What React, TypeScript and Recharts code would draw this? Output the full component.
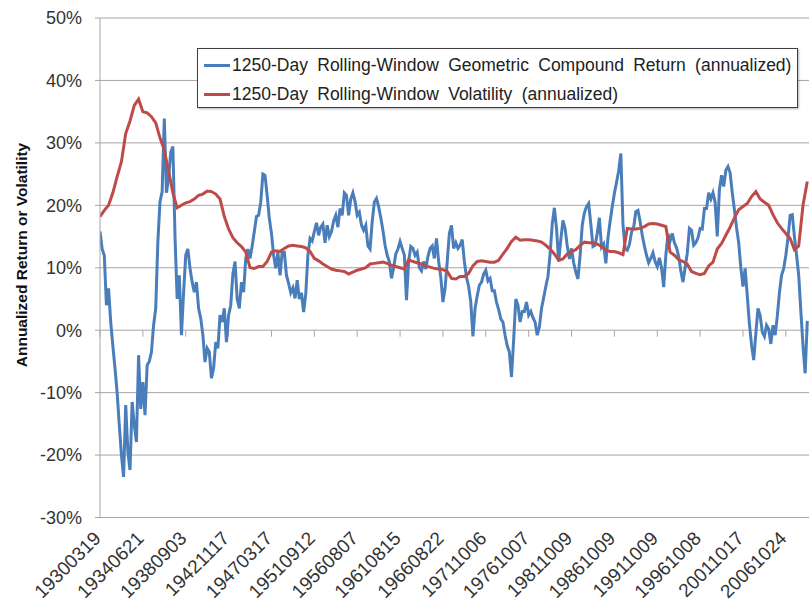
import { LineChart, Line, XAxis, YAxis, CartesianGrid, Legend, ReferenceLine } from 'recharts';

const dateLabels = [
  '19300319', '19340621', '19380903', '19421117', '19470317', '19510912',
  '19560807', '19610815', '19660822', '19711006', '19761007', '19811009',
  '19861009', '19911009', '19961008', '20011017', '20061024',
];

// annualized return, percent, one value every 1/20 of a label interval
const returnPct = [
  15.8, 13, 12, 4, 6.7, 1.3, -2.5, -6.1, -10, -15.2,
  -20, -23.5, -12, -19.5, -22.4, -11.5, -15.2, -17.9, -4, -12.6,
  -8.3, -13.6, -5.6, -5, -3.5, 0.8, 3.5, 14.2, 20.6, 22.2,
  33.9, 22, 24.3, 28.5, 29.4, 15, 5, 8.8, -0.8, 6,
  12, 13, 9.9, 7.7, 6.1, 7.7, 3.5, 1.9, -0.8, -5.1,
  -2.9, -3.5, -7.7, -6.1, -1.9, -2.9, 2.4, 1.3, 3.5, -1.9,
  2.4, 4, 9, 11, 5, 3.5, 7.7, 6.1, 11.5, 13,
  11.5, 13.5, 15.8, 18.2, 18.4, 20.5, 25, 24.8, 21.5, 17.9,
  15.5, 12, 9.9, 12.5, 8.8, 12.5, 12.5, 8.8, 7.5, 6,
  6.8, 5.1, 8, 5, 6, 2.9, 5.8, 12, 14.7, 14.3,
  15.8, 17.2, 15.2, 16.5, 17, 14, 16.8, 15, 15.8, 17.5,
  18.4, 16.5, 19.5, 18.4, 22, 21.6, 18.4, 21, 22, 20.6,
  18.4, 18.9, 16.8, 16, 16.8, 13.5, 13, 17.4, 20.5, 21.1,
  19.8, 18, 16, 13.6, 12, 11, 8.3, 10, 12.2, 13,
  14.2, 13.1, 12, 4.8, 11, 13.4, 13.1, 12, 12.5, 10,
  9.5, 11, 9.8, 11.8, 13.1, 13.5, 11.5, 14.7, 11, 8.5,
  4.5, 6.7, 11, 15.5, 16.8, 13.1, 14, 13.1, 13.6, 14.5,
  11, 8.5, 7, 4.5, -1, 3.5, 5.5, 7.2, 7.7, 9,
  9.6, 7.9, 8.3, 6.3, 6.3, 4.5, 3.3, 1.8, 1.3, -0.8,
  -2.5, -3.5, -7.5, -1.5, 5, 4, 1.3, 3, 3, 4.5,
  2.4, 3, 2, 1.3, -0.8, 0.5, 3.5, 5.2, 7, 8.6,
  12.2, 17, 19.6, 16.3, 11, 14.5, 17.6, 16.3, 13.5, 11.4,
  13.1, 10.8, 9.3, 8.2, 12, 16.8, 18.8, 19.8, 20.3, 17,
  13.4, 13.6, 15.5, 18, 13.3, 13.8, 10.7, 14.8, 17.4, 19.8,
  21.9, 23.7, 25.5, 28.3, 17, 13, 12.8, 13.7, 15.7, 16.5,
  19, 19.2, 17.4, 15.2, 13.5, 12, 10.8, 11.5, 12.4, 11,
  10.2, 11.6, 10, 6.9, 12, 15.4, 14.3, 15.5, 14, 13.2,
  11.8, 9.5, 7.7, 10, 12.3, 16.3, 16, 13.6, 14, 14.8,
  16.3, 16.2, 19.5, 19.5, 22, 21, 22, 20.5, 15, 22.5,
  24.8, 23, 25.6, 26.2, 25.2, 22, 19.3, 16.4, 14, 10,
  7, 9.9, 5.5, 1, -2.4, -4.8, -0.5, 3.5, 2.4, -0.3,
  -1, 0.8, 0.2, -2.2, 0.8, -0.8, 2.2, 6, 8.8, 9.9,
  12, 14.8, 18.4, 18.5, 15, 12, 8.8, 3, -2.5, -6.9, 1.5,
];

// annualized volatility, percent, one value every 1/10 of a label interval
const volatilityPct = [
  18.2, 19.2, 20, 22, 24.6, 27, 31.5, 33.5, 36, 37,
  35, 34.8, 34.2, 33.2, 30.8, 28.8, 25.5, 22, 19.6, 20,
  20.4, 20.6, 21, 21.6, 21.8, 22.3, 22.2, 21.8, 21, 18.2,
  16.2, 14.8, 14, 13.4, 12.5, 10, 9.9, 10.2, 10.2, 11,
  12.5, 12.7, 12.6, 13.1, 13.5, 13.6, 13.5, 13.4, 13.2, 12.6,
  11.5, 11.1, 10.6, 10.2, 9.8, 9.6, 9.5, 9.4, 9, 9.3,
  9.6, 9.8, 10, 10.6, 10.7, 10.8, 10.9, 10.7, 10.4, 10.2,
  10, 9.8, 11.3, 11, 10.8, 10.6, 10.3, 10.1, 9.9, 9.8,
  9.7, 9.4, 8.3, 8.2, 8.6, 8.6, 9.1, 10.3, 11, 11.1,
  11, 10.9, 10.9, 11.2, 12.2, 13.1, 14.2, 14.9, 14.4, 14.5,
  14.5, 14.4, 14.3, 14.1, 13.6, 13, 12.2, 11.2, 11.4, 12.2,
  12.6, 12.9, 13.6, 14.1, 14, 14, 13.8, 13.4, 12.8, 12.6,
  12.6, 12.4, 12.1, 16.3, 16.2, 16.2, 16.3, 16.6, 17, 17.1,
  17, 16.8, 16.6, 12.5, 12, 11.3, 11, 10.6, 9.4, 9.1,
  8.9, 9.1, 10.3, 10.9, 13, 13.9, 15.2, 16.5, 18, 19.3,
  19.8, 20.3, 21.4, 22.2, 21, 20.5, 20, 18.5, 17.2, 16.3,
  15.5, 14.7, 12.9, 13.5, 20, 23.8,
];

const yTicks = [-30, -20, -10, 0, 10, 20, 30, 40, 50];
const xTicks = dateLabels.map((_, i) => i);

const data = returnPct.map((r, j) => ({
  pos: j / 20,
  ret: r,
  vol: j % 2 === 0 ? volatilityPct[j / 2] : null,
}));

const FONT = "'Liberation Sans', Arial, sans-serif";

function DateTick({ x, y, payload }: any) {
  const ax = x + 2;
  const ay = y + 22;
  return (
    <text
      x={ax}
      y={ay}
      textAnchor="end"
      transform={`rotate(-45 ${ax} ${ay})`}
      fontSize={19}
      fontFamily={FONT}
      fill="#333"
    >
      {dateLabels[payload.value]}
    </text>
  );
}

function LegendBox({ payload }: any) {
  return (
    <div
      style={{
        boxSizing: 'border-box',
        width: 601,
        height: 60,
        border: '1px solid #404040',
        background: '#fff',
        boxShadow: '1px 1px 2px rgba(0,0,0,0.3)',
        paddingTop: 2,
        fontFamily: FONT,
        fontSize: 17.5,
        color: '#222',
      }}
    >
      {(payload || []).map((p: any) => (
        <div key={p.value} style={{ display: 'flex', alignItems: 'center', height: 29, paddingLeft: 6 }}>
          <span style={{ display: 'inline-block', width: 26, height: 3, background: p.color, marginRight: 2 }} />
          <span style={{ wordSpacing: 4.5 }}>{p.value}</span>
        </div>
      ))}
    </div>
  );
}

export default function App() {
  return (
    <div style={{ position: 'absolute', left: 0, top: 0, width: 809, height: 603, background: '#fff' }}>
      <LineChart width={809} height={603} data={data} margin={{ top: 18, right: 0, bottom: 0, left: 0 }}>
        <CartesianGrid vertical={false} stroke="#a6a6a6" strokeWidth={1} />
        <XAxis
          dataKey="pos"
          type="number"
          domain={[0, 16.54]}
          ticks={xTicks}
          interval={0}
          height={85.5}
          axisLine={false}
          tickLine={false}
          tickSize={0}
          tickMargin={0}
          tick={<DateTick />}
          allowDataOverflow
        />
        <YAxis
          type="number"
          domain={[-30, 50]}
          ticks={yTicks}
          interval={0}
          width={100}
          axisLine={{ stroke: '#a6a6a6' }}
          tickLine={{ stroke: '#a6a6a6' }}
          tickSize={5}
          tickMargin={13}
          tickFormatter={(v: number) => `${v}%`}
          tick={{ fontSize: 18, fontFamily: FONT, fill: '#333' }}
          label={() => (
            <text
              x={21}
              y={255}
              textAnchor="middle"
              dominantBaseline="central"
              transform="rotate(-90 21 255)"
              fontSize={15.5}
              fontWeight="bold"
              fontFamily={FONT}
              fill="#111"
            >
              Annualized Return or Volatility
            </text>
          )}
        />
        {xTicks.map((t) => (
          <ReferenceLine
            key={t}
            segment={[{ x: t, y: 0 }, { x: t, y: -1.05 }]}
            stroke="#a6a6a6"
            ifOverflow="extendDomain"
          />
        ))}
        <Legend
          layout="horizontal"
          verticalAlign="middle"
          align="center"
          content={<LegendBox />}
          wrapperStyle={{ left: 197, top: 48, width: 601, height: 60 }}
        />
        <Line
          type="linear"
          dataKey="ret"
          name="1250-Day Rolling-Window Geometric Compound Return (annualized)"
          stroke="#4A7EBB"
          strokeWidth={3}
          dot={false}
          isAnimationActive={false}
        />
        <Line
          type="linear"
          dataKey="vol"
          name="1250-Day Rolling-Window Volatility (annualized)"
          stroke="#BE4B48"
          strokeWidth={3}
          dot={false}
          connectNulls
          isAnimationActive={false}
        />
      </LineChart>
    </div>
  );
}
